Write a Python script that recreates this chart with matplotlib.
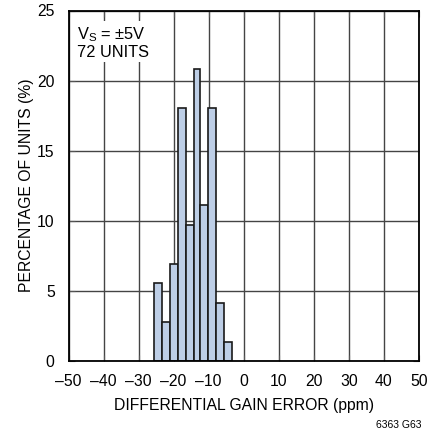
import matplotlib
matplotlib.use("Agg")
import matplotlib.pyplot as plt
import numpy as np

bin_edges = [-25.5, -23.3, -21.0, -18.8, -16.4, -14.2, -12.6, -10.3, -8.0, -5.7, -3.4]
percent = [5.56, 2.78, 6.94, 18.06, 9.72, 20.83, 11.11, 18.06, 4.17, 1.39]
xticks = [-50, -40, -30, -20, -10, 0, 10, 20, 30, 40, 50]
yticks = [0, 5, 10, 15, 20, 25]

plt.rcParams['font.family'] = ['Liberation Sans', 'DejaVu Sans']
FS = 11.3

fig = plt.figure(figsize=(4.45, 4.33), dpi=100)
ax = fig.add_axes([68.5/445, (433-361)/433, 350.5/445, 350.5/433])

lefts = np.array(bin_edges[:-1])
widths = np.diff(bin_edges)
ax.bar(lefts, percent, width=widths, align='edge', color='#bdcee6',
       edgecolor='#1a1a1a', linewidth=1.2, zorder=3)

ax.set_xlim(-50, 50)
ax.set_ylim(0, 25)
ax.set_xticks(xticks)
ax.set_yticks(yticks)
ax.set_xticklabels([str(t).replace('-', '\u2013') for t in xticks], fontsize=FS)
ax.set_yticklabels([str(t) for t in yticks], fontsize=FS)
ax.grid(True, color='#444444', linewidth=1.0, zorder=0)
ax.tick_params(direction='in', length=4, top=True, right=True, width=0.8, color='#555555')
ax.tick_params(axis='x', pad=9)
ax.tick_params(axis='y', pad=10)
for s in ax.spines.values():
    s.set_linewidth(1.3)
    s.set_color('black')
    s.set_zorder(4)

ax.set_xlabel('DIFFERENTIAL GAIN ERROR (ppm)', fontsize=FS, labelpad=7)
ax.set_ylabel('PERCENTAGE OF UNITS (%)', fontsize=FS, labelpad=2)

ax.text(-47.6, 23.95, 'V$_\\mathregular{S}$ = \u00b15V\n72 UNITS', fontsize=11.8,
        va='top', ha='left', linespacing=1.05, zorder=5,
        bbox=dict(facecolor='white', edgecolor='none', pad=2))

fig.text(421/445, 1 - 425/433, '6363 G63', fontsize=7.5, ha='right', va='center')

fig.savefig('out.png', dpi=100)
